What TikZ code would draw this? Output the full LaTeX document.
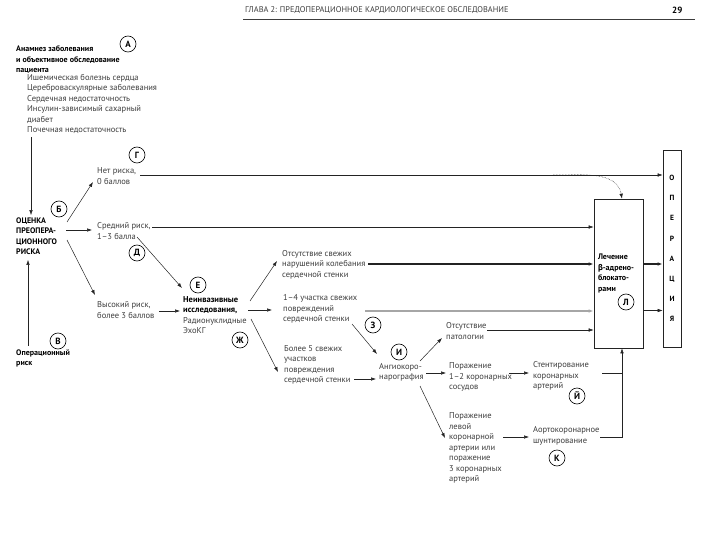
\documentclass[tikz,border=0pt]{standalone}
\usepackage{fontspec}
\setmainfont{PT Sans}
\newfontfamily\betafont{Fira Sans}
\usetikzlibrary{arrows.meta, calc, positioning}
\definecolor{textgray}{RGB}{60,60,60}
\definecolor{linegray}{RGB}{35,35,35}

\tikzset{
  txt/.style={anchor=west, align=left, inner sep=0pt, text=textgray,
              font=\fontsize{8.5}{10.5}\selectfont},
  bld/.style={txt, text=black, font=\bfseries\fontsize{8}{10.5}\selectfont},
  letc/.style={circle, draw=black, line width=0.6pt, minimum size=16pt,
               inner sep=0pt, font=\bfseries\fontsize{9}{9}\selectfont},
  arr/.style={-{Latex[length=5pt,width=3.5pt]}, linegray, line width=0.5pt},
  lnk/.style={linegray, line width=0.5pt},
}

\begin{document}
\begin{tikzpicture}[x=1pt, y=-1pt]
    \useasboundingbox (0,0) rectangle (720,540);

    % Page header
    \node[anchor=west, inner sep=0pt, text=textgray, font=\fontsize{8.3}{9}\selectfont]
        (head) at (245,10) {ГЛАВА 2: ПРЕДОПЕРАЦИОННОЕ КАРДИОЛОГИЧЕСКОЕ ОБСЛЕДОВАНИЕ};
    \node[anchor=west, inner sep=0pt, font=\bfseries\fontsize{9}{9}\selectfont]
        (page) at (672,10) {29};
    \draw[textgray, line width=0.6pt] ($(head.west)+(-2,9)$) -- ($(page.east)+(12,9)$);

    % Left column
    \node[bld] (anam) at (16,60) {Анамнез заболевания\\ и объективное обследование\\ пациента};
    \node[txt] (hist) at (27,104) {Ишемическая болезнь сердца\\ Цереброваскулярные заболевания\\
        Сердечная недостаточность\\ Инсулин-зависимый сахарный\\ диабет\\ Почечная недостаточность};
    \node[bld] (ocenka) at (16,236) {ОЦЕНКА\\ ПРЕОПЕРА-\\ ЦИОННОГО\\ РИСКА};
    \node[bld] (oprisk) at (16,358.5) {Операционный\\ риск};

    % Risk groups
    \node[txt] (net) at (97,176) {Нет риска,\\ 0 баллов};
    \node[txt] (sred) at (97,231) {Средний риск,\\ 1–3 балла};
    \node[txt] (vys) at (97,310) {Высокий риск,\\ более 3 баллов};

    % Noninvasive tests and results
    \node[txt] (neinv) at (183,315) {\textcolor{black}{\textbf{Неинвазивные}}\\
        \textcolor{black}{\textbf{исследования,}}\\ Радионуклидные\\ ЭхоКГ};
    \node[txt] (otsut) at (282,264.5) {Отсутствие свежих\\ нарушений колебания\\ сердечной стенки};
    \node[txt] (uch) at (283,309) {1–4 участка свежих\\ повреждений\\ сердечной стенки};
    \node[txt] (bol) at (284,365) {Более 5 свежих\\ участков\\ повреждения\\ сердечной стенки};

    % Angiography branch
    \node[txt] (angio) at (379,372.5) {Ангиокоро-\\ нарография};
    \node[txt] (nopat) at (446,331) {Отсутствие\\ патологии};
    \node[txt] (por) at (449,377) {Поражение\\ 1–2 коронарных\\ сосудов};
    \node[txt] (porlev) at (449,448) {Поражение\\ левой\\ коронарной\\ артерии или\\ поражение\\ 3 коронарных\\ артерий};
    \node[txt] (stent) at (533,376) {Стентирование\\ коронарных\\ артерий};
    \node[txt] (aorto) at (533,436) {Аортокоронарное\\ шунтирование};

    % Boxes
    \node[draw=linegray, line width=0.6pt, minimum width=49, minimum height=149,
          text width=41, inner sep=4pt, align=left,
          font=\bfseries\fontsize{8}{10.5}\selectfont]
        (lbox) at (618.5,273.5) {Лечение\\ {\betafont β}-адрено-\\ блокато-\\ рами};
    \node[draw=linegray, line width=0.6pt, minimum width=18, minimum height=197,
          inner sep=0pt, align=center, font=\bfseries\fontsize{7.5}{20.2}\selectfont]
        (opbox) at (672,248.5) {О\\ П\\ Е\\ Р\\ А\\ Ц\\ И\\ Я};

    % Circled letters
    \node[letc] (cA) at (128,44) {А};
    \node[letc] (cG) at (137,155) {Г};
    \node[letc] (cB) at (59,209) {Б};
    \node[letc] (cD) at (137,253) {Д};
    \node[letc] (cE) at (198,285) {Е};
    \node[letc] (cZh) at (240,340) {Ж};
    \node[letc] (cV) at (58,341) {В};
    \node[letc] (cZ) at (373,325) {З};
    \node[letc] (cI) at (399,352) {И};
    \node[letc] (cJ) at (577,396) {Й};
    \node[letc] (cK) at (557,458) {К};
    \node[letc] (cL) at (626,302) {Л};

    % Into the risk assessment
    \coordinate (h1) at ($(hist.west)+(4,33)$);
    \draw[arr, shorten >=2pt] (h1) -- (h1 |- ocenka.north);
    \coordinate (o1) at ($(oprisk.west)+(12,-13)$);
    \draw[arr, shorten >=5pt] (o1) -- (o1 |- ocenka.south);

    % Risk assessment to groups
    \draw[arr] ($(ocenka.west)+(51,-14)$) -- ($(net.west)+(-4,6)$);
    \draw[arr] ($(ocenka.west)+(50,-6)$) -- ($(sred.west)+(-5,-1)$);
    \draw[arr] ($(ocenka.west)+(51,4)$) -- ($(vys.west)+(-2,-15)$);

    % Groups onward
    \coordinate (n1) at ($(net.west)+(43,-1)$);
    \draw[arr] (n1) -- (n1 -| opbox.west);
    \coordinate (d1) at ($(n1)+(413,0)$);
    \draw[arr, densely dotted] (d1) to[out=0, in=100] ($(lbox.north)+(3.5,0)$);
    \coordinate (s1) at ($(sred.west)+(55,-4)$);
    \draw[arr] (s1) -- (s1 -| lbox.west);
    \draw[arr] ($(sred.west)+(40,6)$) -- ($(neinv.west)+(-1,-27)$);
    \draw[arr] ($(vys.west)+(62,1)$) -- ($(neinv.west)+(-3,-4)$);

    % Noninvasive tests to results
    \draw[arr] ($(neinv.west)+(67,-14)$) -- ($(otsut.west)+(-5,-3.5)$);
    \draw[arr] ($(neinv.west)+(65,-5)$) -- ($(uch.west)+(-11,1)$);
    \draw[arr] ($(neinv.west)+(68,4)$) -- ($(bol.west)+(-6,7)$);

    % Results onward
    \coordinate (t1) at ($(otsut.west)+(86,-0.5)$);
    \draw[arr, line width=1.6pt] (t1) -- (t1 -| lbox.west);
    \coordinate (u1) at ($(uch.west)+(82,2)$);
    \draw[arr, gray!70, line width=1.5pt] (u1) -- (u1 -| lbox.west);
    \draw[arr] ($(uch.west)+(69,15)$) -- ($(angio.west)+(-2,-18.5)$);
    \draw[arr] ($(bol.west)+(70,14)$) -- ($(angio.west)+(-3,6.5)$);

    % Angiography results
    \draw[arr] ($(angio.west)+(41,-11.5)$) -- ($(nopat.west)+(-4,7)$);
    \draw[arr] ($(angio.west)+(47,0.5)$) -- ($(por.west)+(-3,-4)$);
    \draw[arr] ($(angio.west)+(41,13.5)$) -- ($(porlev.west)+(-4,-10)$);
    \coordinate (p1) at ($(nopat.west)+(41,-1)$);
    \draw[arr] (p1) -- (p1 -| lbox.west);
    \draw[arr] ($(por.west)+(60,-4)$) -- ($(stent.west)+(-4,-3)$);
    \draw[arr] ($(porlev.west)+(54,-11)$) -- ($(aorto.west)+(-4,1)$);

    % Revascularisation back to treatment
    \coordinate (lb) at ($(lbox.south)+(3.5,0)$);
    \coordinate (st1) at ($(stent.west)+(69,-3)$);
    \coordinate (ao1) at ($(aorto.west)+(67,1)$);
    \draw[lnk] (st1) -- (st1 -| lb);
    \draw[arr] (ao1) -| (lb);

    % Treatment to surgery
    \coordinate (l1) at ($(lbox.east)+(0,-9.5)$);
    \draw[arr, line width=1.6pt] (l1) -- (l1 -| opbox.west);
    \coordinate (l2) at ($(lbox.east)+(0,37)$);
    \draw[arr] (l2) -- (l2 -| opbox.west);
\end{tikzpicture}
\end{document}
